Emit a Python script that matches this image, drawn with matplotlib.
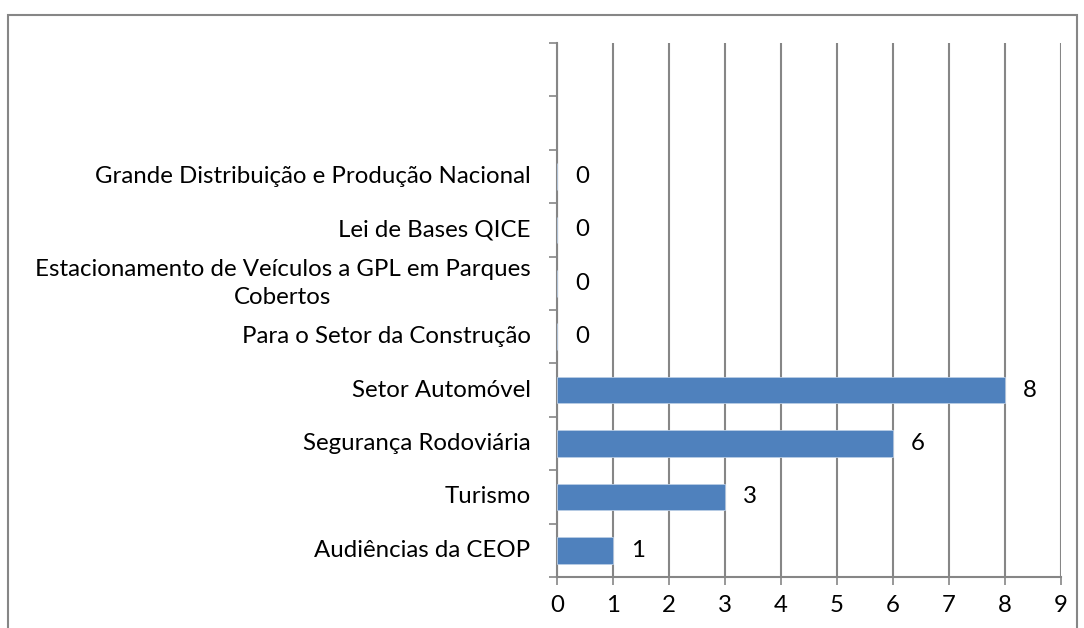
import matplotlib
matplotlib.use("Agg")
import matplotlib.pyplot as plt
from matplotlib.patches import Rectangle

# Data (bottom to top)
categories = [
    "Audiências da CEOP",
    "Turismo",
    "Segurança Rodoviária",
    "Setor Automóvel",
    "Para o Setor da Construção",
    "Estacionamento de Veículos a GPL em Parques\nCobertos",
    "Lei de Bases QICE",
    "Grande Distribuição e Produção Nacional",
]
values = [1, 3, 6, 8, 0, 0, 0, 0]
x_ticks = list(range(0, 10))

plt.rcParams["font.family"] = ["Lato", "DejaVu Sans"]
grey = "#868686"
fs = 17.3

fig = plt.figure(figsize=(10.84, 6.28), dpi=100)
ax = fig.add_axes([557 / 1084, 1 - 577 / 628, 504 / 1084, 534 / 628])

pos = list(range(len(categories)))
bars = ax.barh(pos, values, height=0.5, color="#4F81BD", edgecolor="#B9CDE5",
               linewidth=0.6, zorder=3)
ax.bar_label(bars, labels=[str(v) for v in values], padding=13, fontsize=fs,
             color="black")

ax.set_xlim(0, 9)
ax.set_ylim(-0.5, 9.5)
ax.set_xticks(x_ticks)
ax.set_yticks(pos)
ax.set_yticklabels([])
ax.set_yticks([p - 0.5 for p in range(11)], minor=True)

# category labels drawn as text so the wrapped one can be centred
for p, name in zip(pos, categories):
    ax.annotate(name, xy=(0, p), xycoords=("axes fraction", "data"),
                xytext=(-19, 0), textcoords="offset points",
                ha="right", va="center", multialignment="center",
                linespacing=1.4, fontsize=fs)

ax.tick_params(axis="y", which="major", length=0)
ax.tick_params(axis="y", which="minor", length=6, width=1.2, color=grey,
               direction="out")
ax.tick_params(axis="x", length=6, width=1.2, color=grey, direction="out",
               labelsize=fs, pad=7)

ax.grid(axis="x", color=grey, linewidth=1.5, zorder=0)
for side in ["top", "right"]:
    ax.spines[side].set_visible(False)
for side in ["left", "bottom"]:
    ax.spines[side].set_color(grey)
    ax.spines[side].set_linewidth(1.5)

# chart-area border
fig.patches.append(Rectangle((8 / 1084, -0.1), 1069 / 1084, 1.1 - 15 / 628,
                             transform=fig.transFigure, fill=False,
                             edgecolor=grey, linewidth=1.5))

fig.savefig("out.png", dpi=100)
